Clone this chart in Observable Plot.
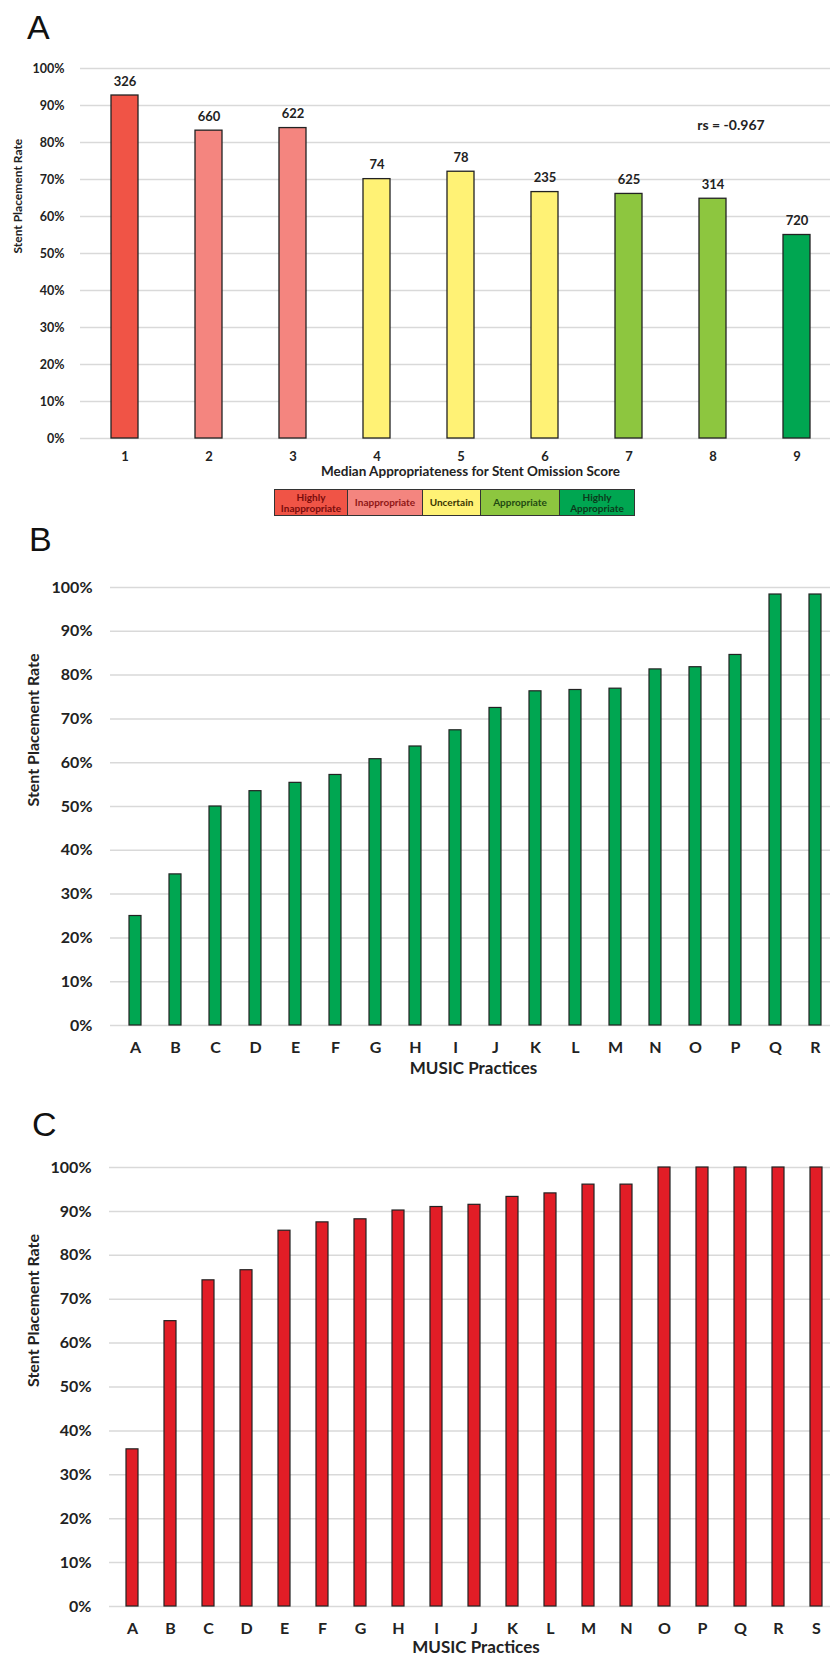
<!DOCTYPE html>
<html><head><meta charset="utf-8">
<script src="https://cdn.jsdelivr.net/npm/d3@7"></script>
<script src="https://cdn.jsdelivr.net/npm/@observablehq/plot@0.6"></script>
<style>
body{margin:0;background:#fff;}
#wrap{position:relative;width:830px;height:1663px;overflow:hidden;font-family:Lato,sans-serif;}
.panel{position:absolute;left:0;}
.letter{position:absolute;font-family:"Liberation Sans",Arial,sans-serif;font-size:34px;line-height:1;color:#111;}
#legend{position:absolute;left:274px;top:489px;height:27px;display:flex;border:1.5px solid #333;box-sizing:border-box;}
#legend div{display:flex;align-items:center;justify-content:center;text-align:center;font-size:10px;font-weight:700;line-height:1.05;box-sizing:border-box;border-right:1px solid #333;height:100%;}
#legend div:last-child{border-right:none;}
</style></head>
<body>
<div id="wrap">
  <div class="letter" style="left:27px;top:10px">A</div>
  <div class="letter" style="left:29px;top:522px">B</div>
  <div class="letter" style="left:32px;top:1107px">C</div>
  <div id="legend"></div>
</div>
<script>
// ---------- data ----------
const scoreCats = ["1","2","3","4","5","6","7","8","9"];
const scoreRates = [0.927, 0.832, 0.839, 0.701, 0.721, 0.666, 0.661, 0.648, 0.550];
const scoreCounts = [326, 660, 622, 74, 78, 235, 625, 314, 720];
const groups = ["Highly Inappropriate","Inappropriate","Uncertain","Appropriate","Highly Appropriate"];
const scoreGroup = ["Highly Inappropriate","Inappropriate","Inappropriate","Uncertain","Uncertain","Uncertain","Appropriate","Appropriate","Highly Appropriate"];
const rsLabel = "rs = -0.967";

const practicesB = ["A","B","C","D","E","F","G","H","I","J","K","L","M","N","O","P","Q","R"];
const ratesB = [0.250, 0.345, 0.500, 0.535, 0.554, 0.572, 0.608, 0.637, 0.674, 0.725, 0.763, 0.766, 0.769, 0.813, 0.818, 0.846, 0.984, 0.984];

const practicesC = ["A","B","C","D","E","F","G","H","I","J","K","L","M","N","O","P","Q","R","S"];
const ratesC = [0.358, 0.650, 0.743, 0.766, 0.856, 0.875, 0.882, 0.902, 0.910, 0.915, 0.933, 0.941, 0.961, 0.961, 1.0, 1.0, 1.0, 1.0, 1.0];

const yTicks = [0,0.1,0.2,0.3,0.4,0.5,0.6,0.7,0.8,0.9,1.0];
const yTitle = "Stent Placement Rate";
const xTitleA = "Median Appropriateness for Stent Omission Score";
const xTitleBC = "MUSIC Practices";

// ---------- styles ----------
const groupColors = ["#F05446","#F4857F","#FFF275","#8DC63F","#00A651"];
const legendText = [["Highly","Inappropriate"],["Inappropriate"],["Uncertain"],["Appropriate"],["Highly","Appropriate"]];
const legendTextColors = ["#7a0c0c","#8f1616","#3b3500","#1f4a12","#0b3b1c"];
const legendWidths = [73,75,58,79,74];
const fmtPct = d3.format(".0%");
const ink = "#222";
const gridStyle = {stroke:"#d9d9d9", strokeOpacity:1, strokeWidth:1.5};
const baseStyle = {fontFamily:"Lato, sans-serif", background:"transparent", overflow:"hidden", color: ink};

const wrap = document.getElementById("wrap");
function place(svg, top){ svg.classList.add("panel"); svg.style.top = top + "px"; wrap.appendChild(svg); }

// ---------- Panel A ----------
const dataA = scoreCats.map((s,i)=>({score:s, rate:scoreRates[i], count:scoreCounts[i], group:scoreGroup[i]}));
const chartA = Plot.plot({
  width:830, height:482,
  marginTop:68, marginBottom:44, marginLeft:80, marginRight:0,
  style: baseStyle,
  x:{type:"band", domain:scoreCats, range:[80,840], paddingInner:0.68, paddingOuter:0.34, label:null},
  y:{domain:[0,1], label:null},
  color:{domain:groups, range:groupColors},
  marks:[
    Plot.gridY(yTicks, gridStyle),
    Plot.barY(dataA, {x:"score", y:"rate", fill:"group", stroke:ink, strokeWidth:1.3}),
    Plot.text(dataA, {x:"score", y:"rate", text:d=>String(d.count), dy:-14, fontSize:13, fontWeight:"bold", fill:ink}),
    Plot.axisY({ticks:yTicks, tickFormat:fmtPct, tickSize:0, tickPadding:16, fontSize:12.5, fontWeight:"bold", fill:ink, label:null}),
    Plot.axisX({tickSize:0, tickPadding:13, fontSize:13, fontWeight:"bold", fill:ink, label:null}),
    Plot.text([xTitleA], {text:d=>d, frameAnchor:"bottom", dy:37, dx:15, fontSize:13.5, fontWeight:"bold", fill:ink}),
    Plot.text([yTitle], {text:d=>d, frameAnchor:"left", dx:-62, rotate:-90, fontSize:12, fontWeight:"bold", fill:ink}),
    Plot.text([rsLabel], {text:d=>d, x:()=>"8", y:()=>0.845, dx:18, fontSize:14, fontWeight:"bold", fill:ink})
  ]
});
place(chartA, 0);

// legend strip
const leg = document.getElementById("legend");
groups.forEach((g,i)=>{
  const d = document.createElement("div");
  d.style.width = legendWidths[i] + "px";
  d.style.background = groupColors[i];
  d.style.color = legendTextColors[i];
  d.innerHTML = legendText[i].join("<br>");
  leg.appendChild(d);
});

// ---------- Panel B ----------
const dataB = practicesB.map((p,i)=>({p, rate:ratesB[i]}));
const chartB = Plot.plot({
  width:830, height:530,
  marginTop:27, marginBottom:65, marginLeft:110, marginRight:0,
  style: baseStyle,
  x:{type:"band", domain:practicesB, range:[110,840], paddingInner:0.69, paddingOuter:0.36, label:null},
  y:{domain:[0,1], label:null},
  marks:[
    Plot.gridY(yTicks, gridStyle),
    Plot.barY(dataB, {x:"p", y:"rate", fill:"#00A651", stroke:ink, strokeWidth:1.2}),
    Plot.axisY({ticks:yTicks, tickFormat:fmtPct, tickSize:0, tickPadding:18, fontSize:16, fontWeight:"bold", fill:ink, label:null}),
    Plot.axisX({tickSize:0, tickPadding:16, fontSize:16, fontWeight:"bold", fill:ink, label:null}),
    Plot.text([xTitleBC], {text:d=>d, frameAnchor:"bottom", dy:48, dx:3, fontSize:17, fontWeight:"bold", fill:ink}),
    Plot.text([yTitle], {text:d=>d, frameAnchor:"left", dx:-77, rotate:-90, fontSize:16, fontWeight:"bold", fill:ink})
  ]
});
place(chartB, 560);

// ---------- Panel C ----------
const dataC = practicesC.map((p,i)=>({p, rate:ratesC[i]}));
const chartC = Plot.plot({
  width:830, height:518,
  marginTop:22, marginBottom:57, marginLeft:109, marginRight:0,
  style: baseStyle,
  x:{type:"band", domain:practicesC, range:[109,840], paddingInner:0.68, paddingOuter:0.38, label:null},
  y:{domain:[0,1], label:null},
  marks:[
    Plot.gridY(yTicks, gridStyle),
    Plot.barY(dataC, {x:"p", y:"rate", fill:"#E11D26", stroke:ink, strokeWidth:1.2}),
    Plot.axisY({ticks:yTicks, tickFormat:fmtPct, tickSize:0, tickPadding:18, fontSize:16, fontWeight:"bold", fill:ink, label:null}),
    Plot.axisX({tickSize:0, tickPadding:16, fontSize:16, fontWeight:"bold", fill:ink, label:null}),
    Plot.text([xTitleBC], {text:d=>d, frameAnchor:"bottom", dy:46, dx:6, fontSize:17, fontWeight:"bold", fill:ink}),
    Plot.text([yTitle], {text:d=>d, frameAnchor:"left", dx:-76, rotate:-90, fontSize:16, fontWeight:"bold", fill:ink})
  ]
});
place(chartC, 1145);
</script>
</body></html>
